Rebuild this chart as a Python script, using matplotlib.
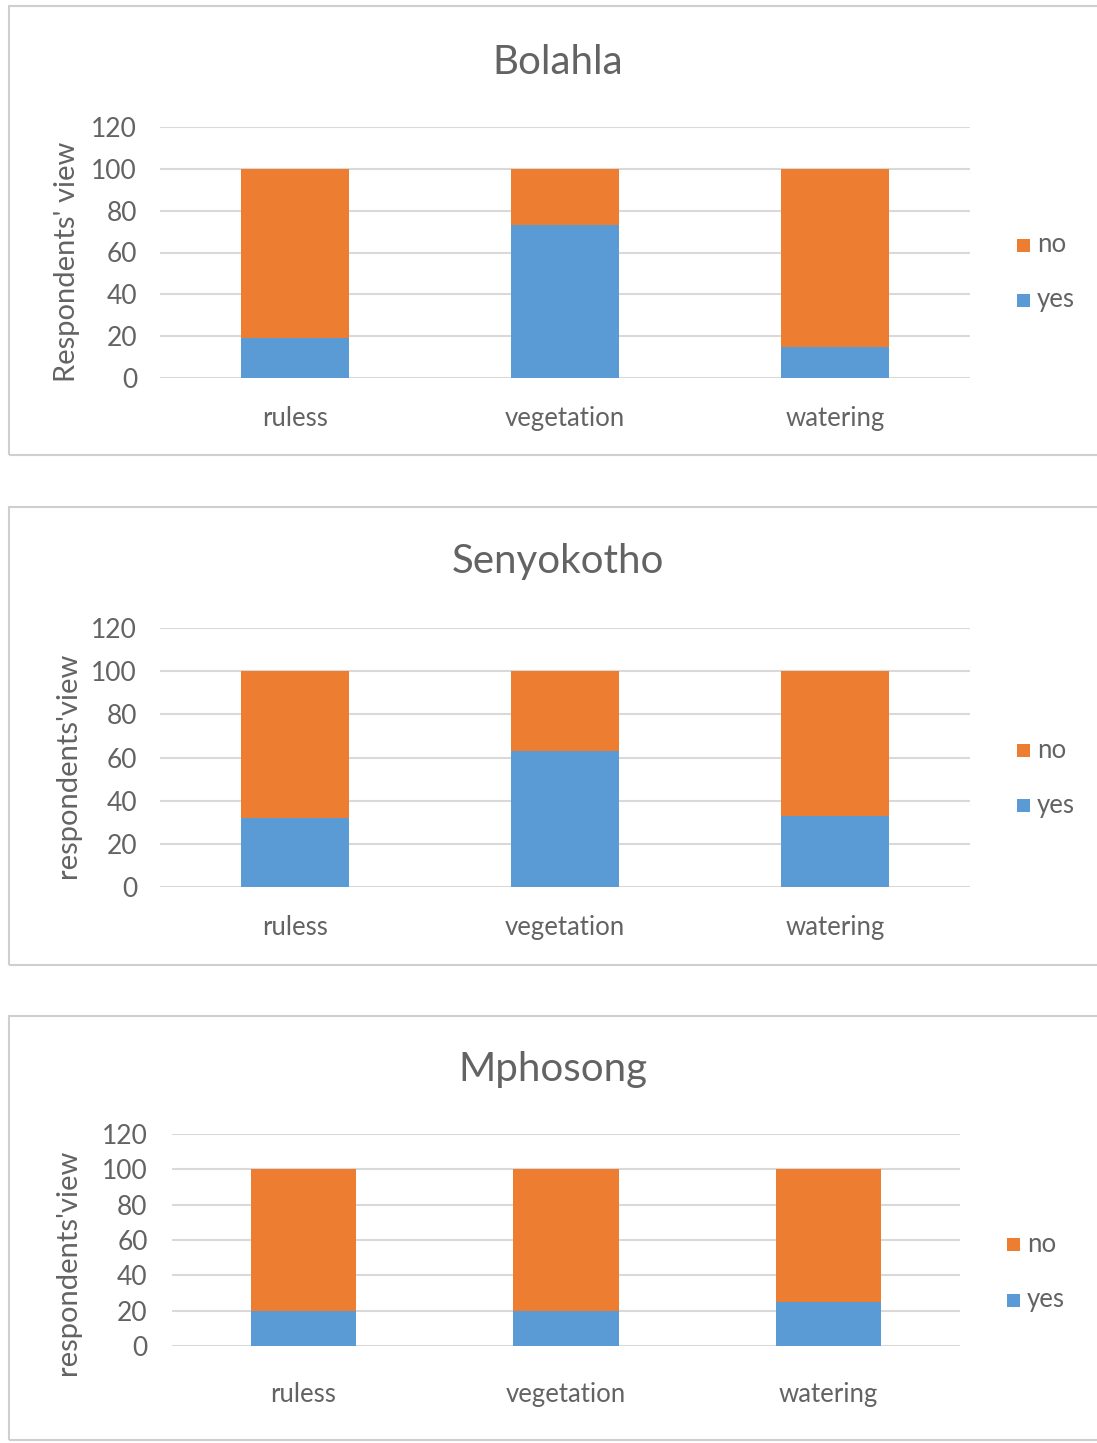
import numpy as np
import matplotlib.pyplot as plt
from matplotlib.patches import Rectangle

plt.rcParams['font.family'] = ['Lato', 'DejaVu Sans']

W, H = 1097, 1443

categories = ["ruless", "vegetation", "watering"]
sites = ["Bolahla", "Senyokotho", "Mphosong"]
ylabels = ["Respondents' view", "respondents'view", "respondents'view"]

yes_bolahla = [19, 73, 15]
yes_senyokotho = [32, 63, 33]
yes_mphosong = [20, 20, 25]
total = [100, 100, 100]

yes_all = [yes_bolahla, yes_senyokotho, yes_mphosong]

BLUE = "#5B9BD5"
ORANGE = "#ED7D31"
GRID = "#D9D9D9"
TXT = "#636363"

# pixel layout of each panel: frame box, plot area, title/ylabel/legend spots
panels = [
    dict(box=(9, 6, 1100, 455), area=(160, 127, 970, 378), title=(558, 62),
         ylab=(67, 262), leg_x=1023, leg_y=(245, 300), ypad=16.5, xpad=20),
    dict(box=(9, 507, 1100, 965), area=(160, 628, 970, 887), title=(558, 562),
         ylab=(68, 765), leg_x=1023, leg_y=(750, 805), ypad=16.5, xpad=20),
    dict(box=(9, 1016, 1100, 1440), area=(172, 1134, 960, 1346), title=(553, 1070),
         ylab=(68, 1262), leg_x=1013, leg_y=(1244, 1300), ypad=17.5, xpad=26),
]


def fx(px):
    return px / W


def fy(py):
    return 1 - py / H


fig = plt.figure(figsize=(W / 100, H / 100), dpi=100)

for site, ylab, yes, p in zip(sites, ylabels, yes_all, panels):
    x0, y0, x1, y1 = p["box"]
    fig.patches.append(Rectangle((fx(x0), fy(y1)), fx(x1 - x0), (y1 - y0) / H,
                                 transform=fig.transFigure, fill=False,
                                 edgecolor="#CFCFCF", linewidth=1.5))

    ax0, ay0, ax1, ay1 = p["area"]
    ax = fig.add_axes([fx(ax0), fy(ay1), fx(ax1 - ax0), (ay1 - ay0) / H])
    x = np.arange(len(categories))
    no = [t - v for t, v in zip(total, yes)]
    ax.bar(x, yes, width=0.4, color=BLUE, label="yes", zorder=3)
    ax.bar(x, no, width=0.4, bottom=yes, color=ORANGE, label="no", zorder=3)

    ax.set_xlim(-0.5, 2.5)
    ax.set_ylim(0, 120)
    ax.set_yticks(range(0, 121, 20))
    ax.set_xticks(x)
    ax.set_xticklabels(categories)
    ax.yaxis.grid(True, color=GRID, linewidth=1.5, zorder=0)
    ax.set_axisbelow(True)
    for s in ax.spines.values():
        s.set_visible(False)
    ax.tick_params(length=0, colors=TXT)
    ax.tick_params(axis="y", pad=p["ypad"], labelsize=19)
    ax.tick_params(axis="x", pad=p["xpad"], labelsize=18.5)

    fig.text(fx(p["title"][0]), fy(p["title"][1]), site, ha="center",
             va="center", fontsize=29, color=TXT)
    fig.text(fx(p["ylab"][0]), fy(p["ylab"][1]), ylab, rotation=90,
             ha="center", va="center", fontsize=21, color=TXT)

    # legend: "no" above "yes"
    for name, col, ly in [("no", ORANGE, p["leg_y"][0]), ("yes", BLUE, p["leg_y"][1])]:
        fig.patches.append(Rectangle((fx(p["leg_x"] - 6), fy(ly + 7)), fx(13), 13 / H,
                                     transform=fig.transFigure, facecolor=col,
                                     edgecolor="none"))
        fig.text(fx(p["leg_x"] + 14), fy(ly), name, ha="left", va="center",
                 fontsize=18.5, color=TXT)

fig.savefig("out.png", dpi=100)
